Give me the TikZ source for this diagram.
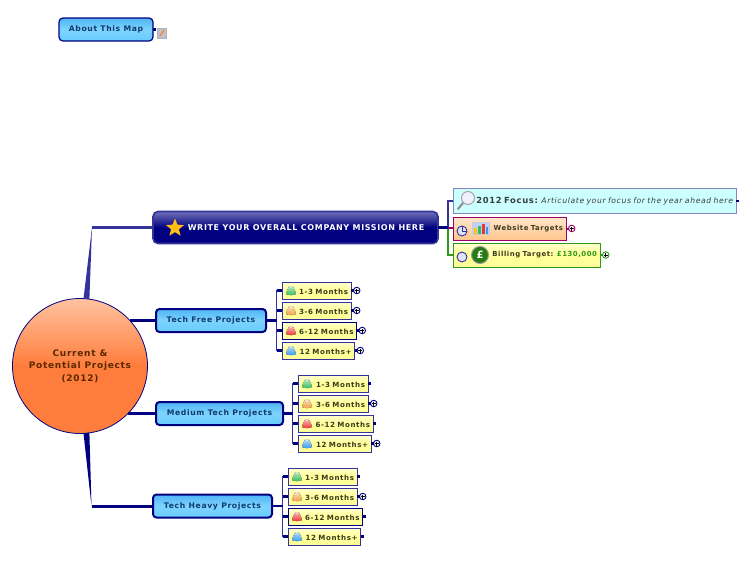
\documentclass[tikz,border=0pt]{standalone}
\usepackage{fontspec}
\setmainfont[LetterSpace=8]{DejaVu Sans}
\usetikzlibrary{shapes.geometric,positioning}
\definecolor{navy}{HTML}{000080}
\definecolor{royal}{HTML}{333399}
\definecolor{sky}{HTML}{66CCFF}
\definecolor{skytop}{HTML}{4FB4F5}
\definecolor{inktopic}{HTML}{0F3A6E}
\definecolor{inkleaf}{HTML}{3A3A20}
\definecolor{inkfocus}{HTML}{3C3C3C}
\definecolor{inkorb}{HTML}{5A2800}
\definecolor{peach}{HTML}{FFC3A0}
\definecolor{burnt}{HTML}{FF7D3C}
\definecolor{gold}{HTML}{FFBE14}
\definecolor{leafy}{HTML}{FFFF99}
\definecolor{paleaqua}{HTML}{CCFFFF}
\definecolor{plum}{HTML}{990066}
\definecolor{leafgreen}{HTML}{2F9A1A}
\definecolor{gemgreen}{HTML}{33BB55}
\definecolor{gemorange}{HTML}{F0A040}
\definecolor{gemred}{HTML}{EE3333}
\definecolor{gemblue}{HTML}{3399EE}
\tikzset{
  topic/.style={rounded corners=3.5pt,draw=navy,line width=2pt,outer sep=0pt,inner sep=0pt,
    minimum width=#1,minimum height=23pt,top color=skytop,bottom color=sky,middle color=sky!85!white,
    text=inktopic,font=\fontsize{7.7pt}{9pt}\selectfont\bfseries},
  leaf/.style={draw=royal,line width=1pt,outer sep=0pt,inner xsep=3pt,inner ysep=0pt,
    minimum height=17pt,text width=#1,align=right,anchor=west,text height=9pt,text depth=1pt,
    top color=leafy!50!white,bottom color=leafy,middle color=leafy,
    text=inkleaf,font=\fontsize{7.1pt}{9pt}\selectfont\bfseries},
  callout/.style={line width=1pt,outer sep=0pt,inner xsep=3pt,inner ysep=0pt,
    text width=#1,align=right,anchor=west,font=\fontsize{6.9pt}{9pt}\selectfont\bfseries},
  busline/.style={royal,line width=1.3pt},
  stub/.style={navy,line width=2.2pt},
  expander/.style={circle,draw=#1,fill=white,line width=.9pt,minimum size=6.5pt,inner sep=0pt,outer sep=0pt,
    path picture={\draw[line width=.7pt,black] (path picture bounding box.center) +(-2,0) -- +(2,0) +(0,-2) -- +(0,2);}},
  expander/.default=navy,
  gem/.pic={
    \fill[top color=#1!35!white,bottom color=#1] (-5,3.5) -- (-4,0) .. controls (-3,-3) and (-1.5,-4.5) .. (0,-4.5)
      .. controls (1.5,-4.5) and (3,-3) .. (4,0) -- (5,3.5) .. controls (2,5) and (-2,5) .. (-5,3.5) -- cycle;
    \fill[white,opacity=.55] (0,-3.5) circle (1.3);
  },
  progress/.style={circle,draw=royal,line width=.9pt,minimum size=10pt,inner sep=0pt,outer sep=0pt,fill=blue!12}
}
\begin{document}
\begin{tikzpicture}[x=1pt,y=-1pt]
\useasboundingbox (0,0) rectangle (750,563);

% central circle
\node[circle,draw=navy,line width=.8pt,minimum size=135pt,inner sep=0pt,outer sep=0pt,
  top color=peach,bottom color=burnt,middle color=burnt,
  text=inkorb,align=center,font=\fontsize{9pt}{12.4pt}\selectfont\bfseries]
  (orb) at (80,366) {Current \&\\Potential Projects\\(2012)};

% main topics
\node[topic=94pt,line width=1.2pt,rounded corners=4pt] (about) at (106,29.5) {About This Map};
\node[rounded corners=5pt,draw=royal,line width=1.6pt,minimum width=285pt,minimum height=32pt,outer sep=0pt,
  top color=royal!70!white,bottom color=navy,middle color=navy,text=white,
  font=\fontsize{8pt}{9pt}\selectfont\bfseries] (mission) at (295.5,227.5) {\hspace*{21pt}WRITE YOUR OVERALL COMPANY MISSION HERE};
\node[topic=110pt] (free) at (211,320.5) {Tech Free Projects};
\node[topic=127pt] (med) at (219.5,413.5) {Medium Tech Projects};
\node[topic=119pt] (heavy) at (212.5,506) {Tech Heavy Projects};

% right of mission
\node[callout=277pt,draw=royal!60!white,fill=paleaqua,minimum height=25.5pt,text=inkfocus] (focus) at (453,201)
  {\fontsize{8.4pt}{9pt}\selectfont 2012 Focus: \fontsize{7.7pt}{9pt}\selectfont\mdseries\itshape Articulate your focus for the year ahead here};
\node[callout=107pt,draw=plum,top color=orange!20!white,bottom color=orange!45!white,minimum height=23pt,text=inkleaf] (website) at (453,228.5) {Website Targets};
\node[callout=141pt,draw=leafgreen,top color=leafy!50!white,bottom color=leafy,middle color=leafy,minimum height=24pt,text=inkleaf] (billing) at (453,255)
  {Billing Target: \textcolor{leafgreen}{£130,000}};

% leaves
\node[leaf=63pt] (free1) at (282,290.5) {1-3 Months};
\node[leaf=63pt] (free2) at (282,310.5) {3-6 Months};
\node[leaf=68.5pt,draw=navy] (free3) at (282,330.5) {6-12 Months};
\node[leaf=66.5pt] (free4) at (282,350.5) {12 Months+};
\node[leaf=64pt] (med1) at (298,383.5) {1-3 Months};
\node[leaf=64pt] (med2) at (298,403.5) {3-6 Months};
\node[leaf=69pt] (med3) at (298,423.5) {6-12 Months};
\node[leaf=67pt] (med4) at (298,443.5) {12 Months+};
\node[leaf=63pt] (heavy1) at (288,476.5) {1-3 Months};
\node[leaf=63pt] (heavy2) at (288,496.5) {3-6 Months};
\node[leaf=68.5pt,draw=navy] (heavy3) at (288,516.5) {6-12 Months};
\node[leaf=66.5pt] (heavy4) at (288,536.5) {12 Months+};

% expanders and tails
\foreach \nm in {free1,free2,free3,free4,med2,med4,heavy2}{
  \node[expander,right=2.5pt of \nm] (\nm x) {};
  \draw[stub] (\nm.east) -- (\nm x.west);
}
\foreach \nm in {med1,med3,heavy1,heavy3,heavy4,focus,about}{
  \coordinate[right=3pt of \nm] (\nm x);
  \draw[stub] (\nm.east) -- (\nm x);
}
\node[expander=plum,right=2.5pt of website] (websitex) {};
\draw[plum,line width=2pt] (website.east) -- (websitex.west);
\node[expander=leafgreen,right=2.5pt of billing] (billingx) {};
\draw[leafgreen,line width=2pt] (billing.east) -- (billingx.west);

% buses
\coordinate (freebus) at (276.5,320.5);
\coordinate (medbus) at (292.5,413.5);
\coordinate (heavybus) at (282.5,506);
\coordinate (missionbus) at (448,227.5);
\foreach \grp in {free,med,heavy}{
  \foreach \n in {1,...,4}{
    \draw[busline] (\grp bus) |- (\grp\n.west);
    \draw[stub] (\grp\n.west) -- (\grp\n.west -| \grp bus);
  }
  \draw[stub,line width=2.6pt] (\grp.east) -- (\grp bus);
}
\foreach \grp/\n/\tint in {free/1/gemgreen,free/2/gemorange,free/3/gemred,free/4/gemblue,
  med/1/gemgreen,med/2/gemorange,med/3/gemred,med/4/gemblue,
  heavy/1/gemgreen,heavy/2/gemorange,heavy/3/gemred,heavy/4/gemblue}{
  \pic at ([xshift=9pt]\grp\n.west) {gem=\tint};
}

\draw[royal,line width=1.4pt] (missionbus) |- (focus.west);
\draw[leafgreen,line width=1.4pt] (missionbus) |- (billing.west);
\draw[plum,line width=2pt] (missionbus) -- (website.west |- missionbus);
\draw[stub,line width=2.4pt] (mission.east) -- (missionbus);

% links from the circle
\coordinate (bendup) at (92,227.5);
\coordinate (benddown) at (91.5,506);
\fill[royal] (orb.87.5) -- (bendup) -- (orb.82.3) -- cycle;
\draw[royal,line width=3pt] (bendup) -- (mission.west);
\fill[navy] (orb.-87.5) -- (benddown) -- (orb.-82.3) -- cycle;
\draw[navy,line width=3pt] (benddown) -- (heavy.west);
\draw[navy,line width=3pt] (free.west) -- (free.west -| orb.42);
\draw[navy,line width=3pt] (med.west) -- (med.west -| orb.-45);

% icons
\node[star,star points=5,star point ratio=2.3,fill=gold,minimum size=19pt,inner sep=0pt] (staricon) at (175,228) {};
\fill[blue!30!black!25!white,draw=black!30] (157,28) rectangle (166,38);
\draw[orange,line width=1pt] (160,36) -- (164,30);
\draw[black!45,line width=2pt,line cap=round] (463,203) -- (458,209);
\draw[black!35,fill=blue!6!white,line width=1pt] (468,198) circle (6.5);
% website icons
\node[progress] (clockweb) at (462,231) {};
\draw[royal,line width=.8pt] (clockweb.center) -- (clockweb.north) (clockweb.center) -- (clockweb.east);
\fill[paleaqua!70!blue!60!white,draw=black!20] (472,222) rectangle (489,234);
\fill[gold] (473.5,233.5) rectangle (477,228);
\fill[gemgreen] (477.5,233.5) rectangle (481,226);
\fill[gemred] (481.5,233.5) rectangle (485,224);
\fill[gemblue] (485.5,233.5) rectangle (488,227);
% billing icons
\node[progress] (clockbill) at (462,257) {};
\node[circle,draw=black!40,line width=1pt,fill=leafgreen!80!black,minimum size=17pt,inner sep=0pt,text=white,font=\fontsize{10pt}{10pt}\selectfont\bfseries] (pound) at (480,255) {£};
\end{tikzpicture}
\end{document}
